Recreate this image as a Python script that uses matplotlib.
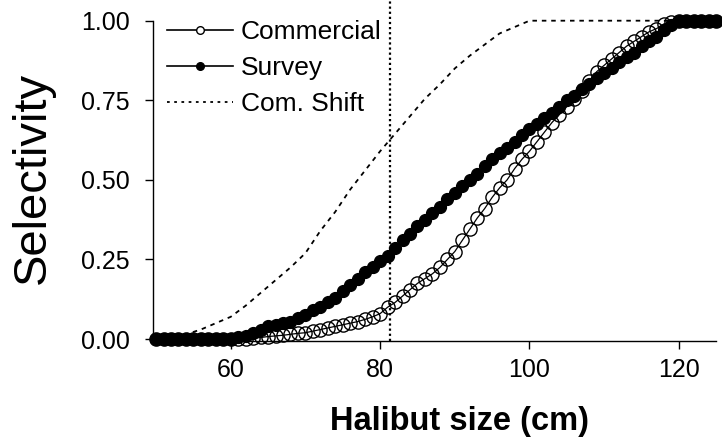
import matplotlib
matplotlib.use("Agg")
import matplotlib.pyplot as plt
from matplotlib.lines import Line2D

plt.rcParams["font.family"] = ["Liberation Sans", "DejaVu Sans"]

# Halibut length bins (cm)
sizes = list(range(50, 126))

commercial = [
    0.0, 0.0, 0.0, 0.0, 0.0, 0.0, 0.0, 0.0, 0.0, 0.0,        # 50-59
    0.0, 0.0, 0.0, 0.003, 0.005, 0.008, 0.01, 0.012, 0.015, 0.018,  # 60-69
    0.02, 0.025, 0.03, 0.035, 0.04, 0.045, 0.05, 0.055, 0.062, 0.07,  # 70-79
    0.08, 0.10, 0.115, 0.135, 0.155, 0.175, 0.19, 0.205, 0.225, 0.25,  # 80-89
    0.275, 0.31, 0.345, 0.38, 0.41, 0.445, 0.475, 0.50, 0.535, 0.565,  # 90-99
    0.59, 0.62, 0.65, 0.68, 0.705, 0.73, 0.755, 0.78, 0.81, 0.84,  # 100-109
    0.86, 0.88, 0.90, 0.92, 0.935, 0.95, 0.965, 0.975, 0.99, 0.995,  # 110-119
    1.0, 1.0, 1.0, 1.0, 1.0, 1.0,                             # 120-125
]

survey = [
    0.0, 0.0, 0.0, 0.0, 0.0, 0.0, 0.0, 0.0, 0.0, 0.0,        # 50-59
    0.0, 0.005, 0.01, 0.02, 0.03, 0.04, 0.045, 0.05, 0.055, 0.065,  # 60-69
    0.075, 0.09, 0.10, 0.115, 0.13, 0.15, 0.17, 0.19, 0.21, 0.225,  # 70-79
    0.245, 0.26, 0.285, 0.31, 0.33, 0.355, 0.375, 0.395, 0.415, 0.44,  # 80-89
    0.46, 0.48, 0.50, 0.52, 0.545, 0.565, 0.585, 0.60, 0.62, 0.64,  # 90-99
    0.66, 0.675, 0.695, 0.71, 0.73, 0.75, 0.765, 0.785, 0.80, 0.82,  # 100-109
    0.835, 0.85, 0.87, 0.885, 0.90, 0.92, 0.935, 0.95, 0.97, 0.985,  # 110-119
    1.0, 1.0, 1.0, 1.0, 1.0, 1.0,                             # 120-125
]

shift_sizes = [50, 52, 54, 56, 58, 60, 62, 64, 66, 68, 70, 72, 74, 76, 78,
               80, 82, 84, 86, 88, 90, 92, 94, 96, 98, 100, 125]
com_shift = [0.0, 0.005, 0.015, 0.03, 0.05, 0.07, 0.105, 0.145, 0.185, 0.225,
             0.27, 0.34, 0.40, 0.47, 0.53, 0.59, 0.645, 0.70, 0.755, 0.80,
             0.85, 0.89, 0.925, 0.96, 0.98, 1.0, 1.0]

ref_size = 81.3

x_ticks = [60, 80, 100, 120]
y_ticks = [0.0, 0.25, 0.5, 0.75, 1.0]

fig = plt.figure(figsize=(7.22, 4.40), dpi=100)
ax = fig.add_axes([0.212, 0.225, 0.780, 0.775])

ax.plot(shift_sizes, com_shift, color="black", lw=1.3,
        linestyle=(0, (2.5, 2.7)), zorder=2)

# commercial: hollow circles joined by a thin line
ax.plot(sizes, commercial, color="black", lw=0.9, marker="o", ms=9.5,
        mfc="none", mec="black", mew=1.0, zorder=3, clip_on=False)

# survey: filled circles drawn above
ax.plot(sizes, survey, color="black", lw=1.0, marker="o", ms=8.5,
        mfc="black", mec="black", zorder=4, clip_on=False)

ax.axvline(ref_size, color="black", lw=1.6, linestyle=(0, (1.0, 1.3)), zorder=1)

ax.set_xlim(49.6, 125)
ax.set_ylim(-0.006, 1.065)
ax.set_xticks(x_ticks)
ax.set_yticks(y_ticks)
ax.set_yticklabels([f"{v:.2f}" for v in y_ticks])
ax.tick_params(axis="both", direction="out", length=6, width=1.0,
               labelsize=18)
ax.tick_params(axis="y", pad=11)
ax.tick_params(axis="x", pad=6)

for side in ("top", "right"):
    ax.spines[side].set_visible(False)
ax.spines["left"].set_bounds(0, 1)
ax.spines["left"].set_linewidth(1.0)
ax.spines["bottom"].set_linewidth(1.0)

ax.set_xlabel("Halibut size (cm)", fontsize=23.5, fontweight="bold")
ax.xaxis.set_label_coords(0.545, -0.19)
ax.set_ylabel("Selectivity", fontsize=34)
ax.yaxis.set_label_coords(-0.175, 0.478)

handles = [
    Line2D([], [], color="black", lw=1.2, marker="o", ms=5.5, mfc="white", mec="black"),
    Line2D([], [], color="black", lw=1.2, marker="o", ms=5.5, mfc="black", mec="black"),
    Line2D([], [], color="black", lw=1.3, linestyle=(0, (1.5, 2.5))),
]
ax.legend(handles, ["Commercial", "Survey", "Com. Shift"], loc="upper left",
          bbox_to_anchor=(0.025, 0.94), frameon=False, fontsize=19,
          handlelength=2.5, handletextpad=0.3, labelspacing=0.45,
          borderpad=0, borderaxespad=0)

fig.savefig("out.png", dpi=100)
